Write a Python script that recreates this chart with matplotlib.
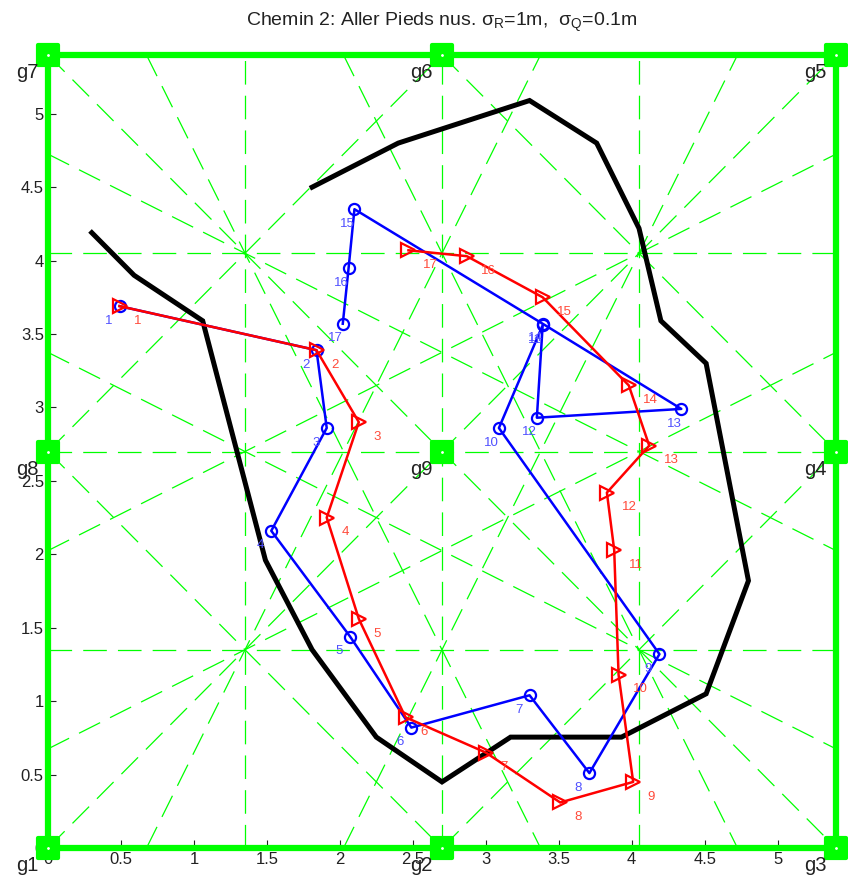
import numpy as np
import matplotlib
matplotlib.use('Agg')
import matplotlib.pyplot as plt
from matplotlib.markers import MarkerStyle

plt.rcParams['font.family'] = ['Liberation Sans', 'DejaVu Sans']
plt.rcParams['mathtext.fontset'] = 'custom'
plt.rcParams['mathtext.rm'] = 'Liberation Sans'
plt.rcParams['mathtext.it'] = 'Liberation Sans:italic'
plt.rcParams['lines.scale_dashes'] = False

# gateways g1..g9
gw_names = ['g1', 'g2', 'g3', 'g4', 'g5', 'g6', 'g7', 'g8', 'g9']
gw_x = [0, 2.7, 5.4, 5.4, 5.4, 2.7, 0, 0, 2.7]
gw_y = [0, 0, 0, 2.7, 5.4, 5.4, 5.4, 2.7, 2.7]

# wall / reference path (black)
wall_x = [0.30, 0.59, 1.06, 1.49, 1.81, 2.25, 2.70, 3.17, 3.93, 4.51, 4.80, 4.51, 4.20, 4.05, 3.76, 3.30, 2.40, 1.81]
wall_y = [4.19, 3.90, 3.59, 1.96, 1.35, 0.755, 0.45, 0.755, 0.755, 1.05, 1.82, 3.30, 3.59, 4.22, 4.80, 5.09, 4.80, 4.50]

# estimated positions, red (triangles) and blue (circles)
red_x = [0.49, 1.84, 2.13, 1.91, 2.13, 2.45, 3.00, 3.51, 4.01, 3.91, 3.88, 3.83, 4.12, 3.98, 3.39, 2.87, 2.47]
red_y = [3.69, 3.39, 2.90, 2.25, 1.56, 0.89, 0.65, 0.31, 0.45, 1.18, 2.03, 2.42, 2.74, 3.15, 3.75, 4.03, 4.07]
blue_x = [0.49, 1.84, 1.91, 1.53, 2.07, 2.49, 3.30, 3.71, 4.19, 3.09, 3.39, 3.35, 4.34, 3.39, 2.10, 2.06, 2.02]
blue_y = [3.69, 3.39, 2.86, 2.16, 1.44, 0.82, 1.04, 0.51, 1.32, 2.86, 3.56, 2.93, 2.99, 3.57, 4.35, 3.95, 3.57]

ticks = [0, 0.5, 1, 1.5, 2, 2.5, 3, 3.5, 4, 4.5, 5]
tick_labels = ['0', '0.5', '1', '1.5', '2', '2.5', '3', '3.5', '4', '4.5', '5']

L = 5.4
green = (0, 1, 0)

fig = plt.figure(figsize=(8.48, 8.82), dpi=100)
ax = fig.add_axes([48 / 848, 34 / 882, 788 / 848, 793 / 882])
ax.set_xlim(0, L)
ax.set_ylim(0, L)


def clip_line(px, py, dx, dy):
    # clip the line p + t*d to the square [0, L]^2
    t0, t1 = -1e9, 1e9
    for p, d in ((px, dx), (py, dy)):
        if abs(d) < 1e-12:
            continue
        a, b = (0 - p) / d, (L - p) / d
        t0 = max(t0, min(a, b))
        t1 = min(t1, max(a, b))
    return (px + t0 * dx, px + t1 * dx), (py + t0 * dy, py + t1 * dy)


# perpendicular bisectors between every pair of gateways (each line once)
n = len(gw_x)
seen = set()
for i in range(n):
    for j in range(i + 1, n):
        mx = (gw_x[i] + gw_x[j]) / 2
        my = (gw_y[i] + gw_y[j]) / 2
        dx = -(gw_y[j] - gw_y[i])
        dy = gw_x[j] - gw_x[i]
        if dx < 0 or (dx == 0 and dy < 0):
            dx, dy = -dx, -dy
        xs, ys = clip_line(mx, my, dx, dy)
        key = tuple(round(v, 3) for v in (xs[0], xs[1], ys[0], ys[1]))
        if key in seen:
            continue
        seen.add(key)
        ax.plot(xs, ys, color=green, lw=0.9, ls=(0, (17, 8)), zorder=1)

# outer square
sq = [0, 2, 4, 6, 0]
ax.plot([gw_x[k] for k in sq], [gw_y[k] for k in sq], color=green, lw=4.5,
        clip_on=False, zorder=2, solid_capstyle='butt')

# wall
ax.plot(wall_x, wall_y, color='k', lw=3.6, zorder=3, solid_joinstyle='miter')

# blue path
ax.plot(blue_x, blue_y, color='blue', lw=1.8, marker='o', ms=8, mew=1.6,
        mfc='none', zorder=4)
# red path
ax.plot(red_x, red_y, color='red', lw=1.8, marker='>', ms=10, mew=1.6,
        mfc='none', zorder=5)

for k in range(len(blue_x)):
    ax.text(blue_x[k] - 0.1, blue_y[k] - 0.1, str(k + 1), color='#5050ff',
            fontsize=9.5, va='center', ha='left', zorder=6)
for k in range(len(red_x)):
    ax.text(red_x[k] + 0.1, red_y[k] - 0.1, str(k + 1), color='#ff4a3a',
            fontsize=9.5, va='center', ha='left', zorder=6)

# gateways
gw_marker = MarkerStyle('s', joinstyle='round')
ax.plot(gw_x, gw_y, ls='none', marker=gw_marker, ms=14, mew=3, color=green,
        mfc=green, clip_on=False, zorder=7)
ax.plot(gw_x, gw_y, ls='none', marker='.', ms=2, color='white',
        clip_on=False, zorder=8)
for k in range(n):
    ax.text(gw_x[k] - 0.22, gw_y[k] - 0.12, gw_names[k], fontsize=14.5,
            color='#222222', va='center', ha='left', clip_on=False, zorder=9)

ax.set_xticks(ticks)
ax.set_xticklabels(tick_labels)
ax.set_yticks(ticks)
ax.set_yticklabels(tick_labels)
ax.tick_params(direction='in', length=6, width=0.8, labelsize=12, pad=3,
               colors='#222222')
for s in ax.spines.values():
    s.set_visible(False)

ax.set_title(r'Chemin 2: Aller Pieds nus. $\mathregular{\sigma_R}$=1m,  $\mathregular{\sigma_Q}$=0.1m',
             fontsize=14, pad=21, color='#222222')

fig.savefig('out.png', dpi=100)
